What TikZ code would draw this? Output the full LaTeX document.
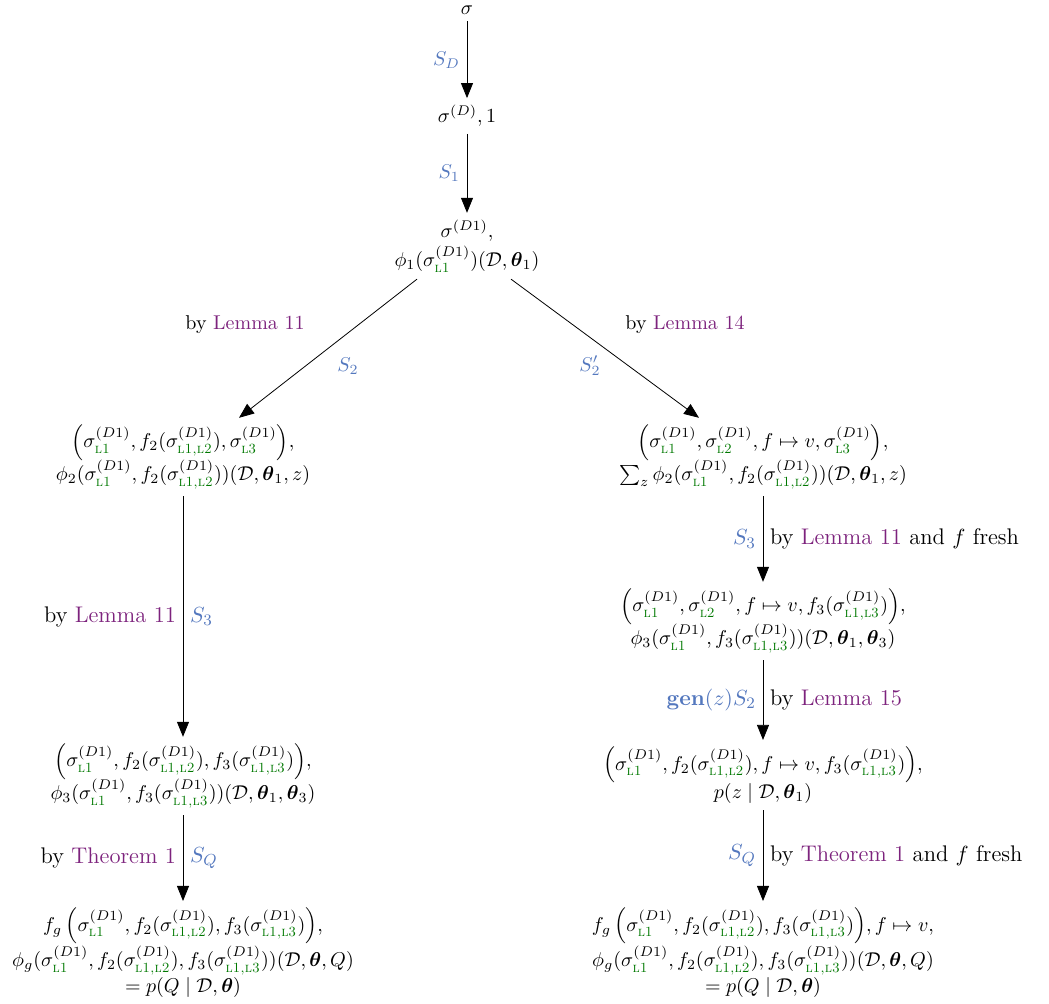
\documentclass[tikz,border=0pt]{standalone}
\usepackage{amsmath,amssymb}
\usetikzlibrary{arrows.meta}
\definecolor{schedblue}{RGB}{84,120,190}
\definecolor{refpurple}{RGB}{125,35,125}
\definecolor{lvgreen}{RGB}{0,120,0}
\newcommand{\lv}[1]{\text{\color{lvgreen}\textsc{#1}}}
\newcommand{\sch}[1]{{\color{schedblue}#1}}
\newcommand{\refto}[1]{{\color{refpurple}#1}}
\newcommand{\sg}[1]{\sigma^{(D1)}_{\lv{#1}}}
\tikzset{
  state/.style={align=center},
  trans/.style={-{Triangle[length=7.5pt,width=6pt]}},
  why/.style={font=\fontsize{11.3pt}{13pt}\selectfont},
}
\begin{document}
\begin{tikzpicture}[x=0.5pt,y=-0.5pt]
\useasboundingbox (0,0) rectangle (1049,1004);
% top chain
\node (s0) at (467,10) [state] {$\sigma$};
\node (s1) at (467,116) [state] {$\sigma^{(D)}, 1$};
\node (s2) at (467,246) [state] {$\sigma^{(D1)},$\\[1pt]$\phi_1(\sg{l1})(\mathcal{D},\boldsymbol{\theta}_1)$};
\draw[trans] (s0) -- node[left] {\sch{$S_D$}} (s1);
\draw[trans] (s1) -- node[left] {\sch{$S_1$}} (s2);
% left branch
\node (l1) at (183,457) [state] {$\Big(\sg{l1}, f_2(\sg{l1,l2}), \sg{l3}\Big),$\\[-1.5pt]$\phi_2(\sg{l1}, f_2(\sg{l1,l2}))(\mathcal{D},\boldsymbol{\theta}_1,z)$};
\node (l2) at (183,776) [state] {$\Big(\sg{l1}, f_2(\sg{l1,l2}), f_3(\sg{l1,l3})\Big),$\\[-1.5pt]$\phi_3(\sg{l1}, f_3(\sg{l1,l3}))(\mathcal{D},\boldsymbol{\theta}_1,\boldsymbol{\theta}_3)$};
\node (l3) at (183,953) [state] {$f_g\,\Big(\sg{l1}, f_2(\sg{l1,l2}), f_3(\sg{l1,l3})\Big),$\\[0pt]$\phi_g(\sg{l1}, f_2(\sg{l1,l2}), f_3(\sg{l1,l3}))(\mathcal{D},\boldsymbol{\theta},Q)$\\[1pt]$= p(Q \mid \mathcal{D},\boldsymbol{\theta})$};
\draw[trans] ([xshift=-25pt]s2.south) -- ([xshift=28pt]l1.north);
\node (ll1) at (245,325) {by \refto{Lemma 11}};
\node (ls2) at (348,366) {\sch{$S_2$}};
\draw[trans] (l1) -- node[left,why] {by \refto{Lemma 11}} node[right,why] {\sch{$S_3$}} (l2);
\draw[trans] (l2) -- node[left,why] {by \refto{Theorem 1}} node[right,why] {\sch{$S_Q$}} (l3);
% right branch
\node (r1) at (763,457) [state] {$\Big(\sg{l1}, \sg{l2}, f \mapsto v, \sg{l3}\Big),$\\[-1.5pt]$\sum_z \phi_2(\sg{l1}, f_2(\sg{l1,l2}))(\mathcal{D},\boldsymbol{\theta}_1,z)$};
\node (r2) at (763,621) [state] {$\Big(\sg{l1}, \sg{l2}, f \mapsto v, f_3(\sg{l1,l3})\Big),$\\[-1.5pt]$\phi_3(\sg{l1}, f_3(\sg{l1,l3}))(\mathcal{D},\boldsymbol{\theta}_1,\boldsymbol{\theta}_3)$};
\node (r3) at (763,775) [state] {$\Big(\sg{l1}, f_2(\sg{l1,l2}), f \mapsto v, f_3(\sg{l1,l3})\Big),$\\[-1pt]$p(z \mid \mathcal{D},\boldsymbol{\theta}_1)$};
\node (r4) at (763,953) [state] {$f_g\,\Big(\sg{l1}, f_2(\sg{l1,l2}), f_3(\sg{l1,l3})\Big), f \mapsto v,$\\[0pt]$\phi_g(\sg{l1}, f_2(\sg{l1,l2}), f_3(\sg{l1,l3}))(\mathcal{D},\boldsymbol{\theta},Q)$\\[1pt]$= p(Q \mid \mathcal{D},\boldsymbol{\theta})$};
\draw[trans] ([xshift=22pt]s2.south) -- ([xshift=-32pt]r1.north);
\node (rl1) at (685,325) {by \refto{Lemma 14}};
\node (rs2) at (590,366) {\sch{$S_2'$}};
\draw[trans] (r1) -- node[left,why] {\sch{$S_3$}} node[right,why] {by \refto{Lemma 11} and $f$ fresh} (r2);
\draw[trans] (r2) -- node[left,why] {\sch{$\mathbf{gen}(z)S_2$}} node[right,why] {by \refto{Lemma 15}} (r3);
\draw[trans] (r3) -- node[left,why] {\sch{$S_Q$}} node[right,why] {by \refto{Theorem 1} and $f$ fresh} (r4);
\end{tikzpicture}
\end{document}
